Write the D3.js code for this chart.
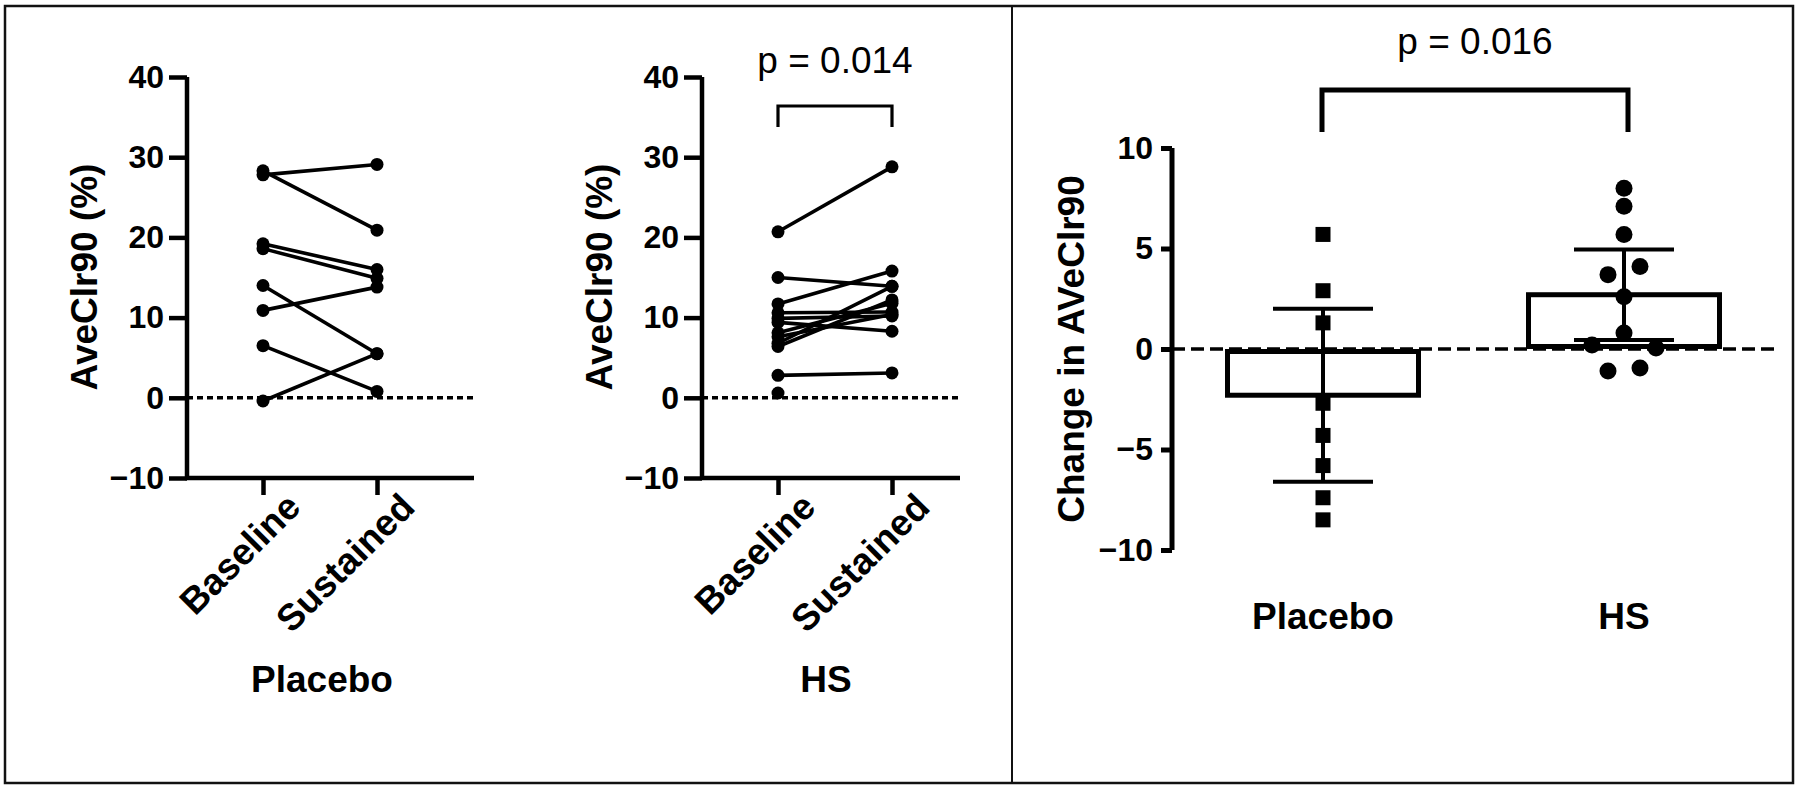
<!DOCTYPE html>
<html>
<head>
<meta charset="utf-8">
<script src="https://cdn.jsdelivr.net/npm/d3@7"></script>
<style>
  html, body { margin: 0; padding: 0; background: #fff; }
  svg { display: block; }
  text { font-family: "Liberation Sans", Arial, Helvetica, sans-serif; fill: #000; }
</style>
</head>
<body>
<svg id="chart" width="1800" height="791"></svg>
<script>
// ---------------- DATA ----------------
const timepoints = ["Baseline", "Sustained"];
const pairedTicks = [-10, 0, 10, 20, 30, 40];

// Placebo: AveClr90 (%) at baseline and sustained (paired per subject)
const placeboBaseline  = [27.8, 28.3, 19.2, 18.6, 14.0, 10.9, 6.5, -0.4];
const placeboSustained = [29.1, 20.9, 16.0, 14.9,  5.5, 13.8, 0.8,  5.5];

// HS: AveClr90 (%) at baseline and sustained (paired per subject)
const hsBaseline  = [20.7, 15.0, 11.7, 10.6, 9.4, 9.9, 8.1, 6.4, 6.8, 7.6, 2.8];
const hsSustained = [28.8, 13.9, 15.8, 10.7, 8.3, 10.2, 11.8, 12.2, 13.9, 10.4, 3.1];
const hsBaselineUnpaired = [0.6];

const pValuePaired = "p = 0.014";

// Change in AVeClr90
const changeGroups = ["Placebo", "HS"];
const changeTicks = [-10, -5, 0, 5, 10];
const placeboChange = [5.7, 2.9, 1.3, -2.7, -4.3, -5.8, -7.4, -8.5];
const hsChange = [8.0, 7.1, 5.7, 3.7, 4.1, 2.6, 0.8, 0.2, 0.05, -1.1, -0.95];
const hsChangeOffsets = [0, 0, 0, -1, 1, 0, 0, -2, 2, -1, 1]; // horizontal scatter slots
const changeMean = [-2.3, 2.7];
const changeSD = [4.3, 2.25];
const pValueChange = "p = 0.016";

// ---------------- DRAW ----------------
const svg = d3.select("#chart");

// frame
svg.append("rect").attr("x", 5).attr("y", 6).attr("width", 1788).attr("height", 777)
  .attr("fill", "none").attr("stroke", "#111").attr("stroke-width", 2.5);
svg.append("line").attr("x1", 1012).attr("x2", 1012).attr("y1", 6).attr("y2", 783)
  .attr("stroke", "#111").attr("stroke-width", 2);

function pairedPanel(opt) {
  const g = svg.append("g");
  const y = d3.scaleLinear().domain([-10, 40]).range([478, 77]);
  const x = d3.scalePoint().domain(timepoints).range([opt.x0 + 76, opt.x0 + 190]);
  const xEnd = opt.xEnd;

  // zero reference line
  g.append("line").attr("x1", opt.x0).attr("x2", xEnd)
    .attr("y1", y(0)).attr("y2", y(0))
    .attr("stroke", "#000").attr("stroke-width", 3.5).attr("stroke-dasharray", "6,4");

  // y axis
  const ya = g.append("g").attr("transform", `translate(${opt.x0},0)`)
    .call(d3.axisLeft(y).tickValues(pairedTicks).tickSize(18).tickPadding(5));
  ya.select(".domain").attr("stroke", "#000").attr("stroke-width", 4.5)
    .attr("d", `M0,${y(40)}V${y(-10)}`);
  ya.selectAll(".tick line").attr("stroke", "#000").attr("stroke-width", 4.5);
  ya.selectAll(".tick text").attr("font-size", 32).attr("font-weight", "bold")
    .attr("font-family", "Liberation Sans, Arial, sans-serif");

  // x axis
  const xa = g.append("g").attr("transform", `translate(0,${y(-10)})`)
    .call(d3.axisBottom(x).tickSize(17));
  xa.select(".domain").remove();
  g.append("line").attr("x1", opt.x0 - 2).attr("x2", xEnd)
    .attr("y1", y(-10)).attr("y2", y(-10)).attr("stroke", "#000").attr("stroke-width", 4.5);
  xa.selectAll(".tick line").attr("stroke", "#000").attr("stroke-width", 4.5);
  xa.selectAll(".tick text")
    .attr("font-size", 37).attr("font-weight", "bold")
    .attr("font-family", "Liberation Sans, Arial, sans-serif")
    .attr("text-anchor", "end")
    .attr("x", 0).attr("y", 0).attr("dy", "0.35em")
    .attr("transform", "translate(30,22) rotate(-45)");

  // y title
  g.append("text").attr("transform", `translate(${opt.x0 - 90},277) rotate(-90)`)
    .attr("text-anchor", "middle").attr("font-size", 37).attr("font-weight", "bold")
    .text("AveClr90 (%)");
  // x title
  g.append("text").attr("x", opt.titleX).attr("y", 692)
    .attr("text-anchor", "middle").attr("font-size", 37).attr("font-weight", "bold")
    .text(opt.title);

  // paired lines
  const pairs = opt.base.map((b, i) => [b, opt.sus[i]]);
  g.selectAll("line.pair").data(pairs).join("line").attr("class", "pair")
    .attr("x1", x(timepoints[0])).attr("x2", x(timepoints[1]))
    .attr("y1", d => y(d[0])).attr("y2", d => y(d[1]))
    .attr("stroke", "#000").attr("stroke-width", 3.6);
  const pts = [];
  pairs.forEach(p => { pts.push([timepoints[0], p[0]]); pts.push([timepoints[1], p[1]]); });
  (opt.extra || []).forEach(v => pts.push([timepoints[0], v]));
  g.selectAll("circle.pt").data(pts).join("circle").attr("class", "pt")
    .attr("cx", d => x(d[0])).attr("cy", d => y(d[1])).attr("r", 6.5).attr("fill", "#000");

  if (opt.p) {
    const xb0 = x(timepoints[0]), xb1 = x(timepoints[1]);
    g.append("path").attr("d", `M${xb0},127V106H${xb1}V127`)
      .attr("fill", "none").attr("stroke", "#000").attr("stroke-width", 3.2);
    g.append("text").attr("x", (xb0 + xb1) / 2).attr("y", 73)
      .attr("text-anchor", "middle").attr("font-size", 37).text(opt.p);
  }
}

pairedPanel({ x0: 187, xEnd: 474, base: placeboBaseline, sus: placeboSustained, title: "Placebo", titleX: 322 });
pairedPanel({ x0: 702, xEnd: 960, base: hsBaseline, sus: hsSustained, extra: hsBaselineUnpaired, title: "HS", titleX: 826, p: pValuePaired });

// ---------- change panel ----------
(function () {
  const g = svg.append("g");
  const y = d3.scaleLinear().domain([-10, 10]).range([550, 148]);
  const x = d3.scalePoint().domain(changeGroups).range([1323, 1624]);
  const x0 = 1172, xEnd = 1777, barW = 196;

  // bars
  g.selectAll("rect.bar").data(changeGroups).join("rect").attr("class", "bar")
    .attr("x", d => x(d) - barW / 2 + 2.5)
    .attr("width", barW - 5)
    .attr("y", (d, i) => Math.min(y(0), y(changeMean[i])) + (changeMean[i] < 0 ? 2.5 : 0))
    .attr("height", (d, i) => Math.abs(y(0) - y(changeMean[i])) - 2.5)
    .attr("fill", "#fff").attr("stroke", "#000").attr("stroke-width", 5);

  // zero line
  g.append("line").attr("x1", x0).attr("x2", xEnd).attr("y1", y(0)).attr("y2", y(0))
    .attr("stroke", "#000").attr("stroke-width", 3.5).attr("stroke-dasharray", "13,6");

  // error bars
  changeGroups.forEach((grp, i) => {
    const cx = x(grp), hi = changeMean[i] + changeSD[i], lo = changeMean[i] - changeSD[i];
    g.append("line").attr("x1", cx).attr("x2", cx).attr("y1", y(hi)).attr("y2", y(lo))
      .attr("stroke", "#000").attr("stroke-width", 4);
    [hi, lo].forEach(v => g.append("line").attr("x1", cx - 50).attr("x2", cx + 50)
      .attr("y1", y(v)).attr("y2", y(v)).attr("stroke", "#000").attr("stroke-width", 4));
  });

  // points
  const sq = 15;
  g.selectAll("rect.sq").data(placeboChange).join("rect").attr("class", "sq")
    .attr("x", x("Placebo") - sq / 2).attr("y", d => y(d) - sq / 2)
    .attr("width", sq).attr("height", sq).attr("fill", "#000");
  g.selectAll("circle.dot").data(hsChange).join("circle").attr("class", "dot")
    .attr("cx", (d, i) => x("HS") + hsChangeOffsets[i] * 16)
    .attr("cy", d => y(d)).attr("r", 8.5).attr("fill", "#000");

  // y axis
  const ya = g.append("g").attr("transform", `translate(${x0},0)`)
    .call(d3.axisLeft(y).tickValues(changeTicks).tickSize(11).tickPadding(8));
  ya.select(".domain").attr("stroke", "#000").attr("stroke-width", 5)
    .attr("d", `M0,${y(10)}V${y(-10)}`);
  ya.selectAll(".tick line").attr("stroke", "#000").attr("stroke-width", 5);
  ya.selectAll(".tick text").attr("font-size", 32).attr("font-weight", "bold")
    .attr("font-family", "Liberation Sans, Arial, sans-serif");

  g.append("text").attr("transform", `translate(1084,349) rotate(-90)`)
    .attr("text-anchor", "middle").attr("font-size", 37).attr("font-weight", "bold")
    .text("Change in AVeClr90");

  g.selectAll("text.grp").data(changeGroups).join("text").attr("class", "grp")
    .attr("x", d => x(d)).attr("y", 629).attr("text-anchor", "middle")
    .attr("font-size", 37).attr("font-weight", "bold").text(d => d);

  const b0 = x("Placebo") - 1, b1 = x("HS") + 4;
  g.append("path").attr("d", `M${b0},132V90H${b1}V132`)
    .attr("fill", "none").attr("stroke", "#000").attr("stroke-width", 5);
  g.append("text").attr("x", (b0 + b1) / 2).attr("y", 54)
    .attr("text-anchor", "middle").attr("font-size", 37).text(pValueChange);
})();
</script>
</body>
</html>
